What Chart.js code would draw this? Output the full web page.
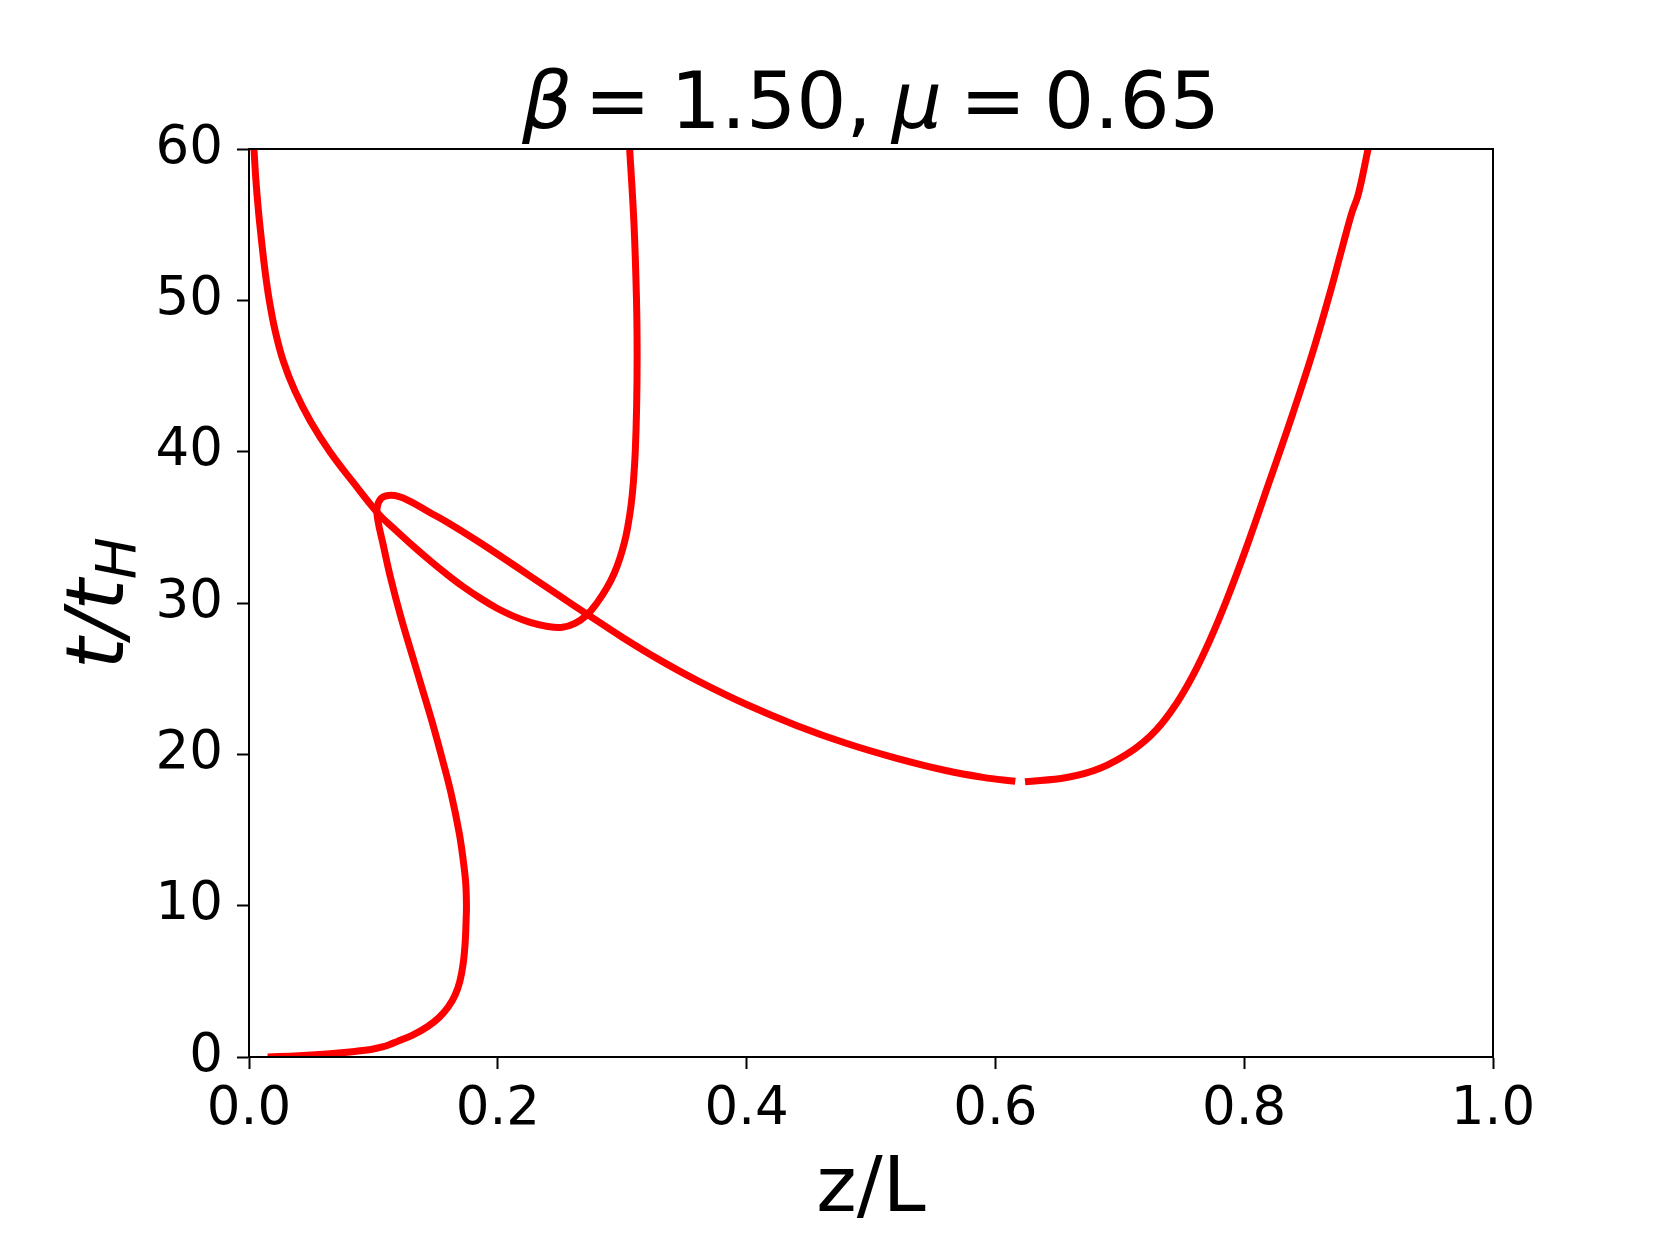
<!DOCTYPE html>
<html>
<head>
<meta charset="utf-8">
<script src="https://cdn.jsdelivr.net/npm/chart.js@4.4.1/dist/chart.umd.min.js"></script>
<style>
  html, body { margin: 0; padding: 0; background: #fff; }
  canvas { display: block; }
</style>
</head>
<body>
<canvas id="chart" width="1660" height="1245"></canvas>
<script>
// left U-shaped branch (z/L, t/tH)
const branchA_z = [0.004, 0.0055, 0.0075, 0.0100, 0.0128, 0.0163, 0.0210, 0.0275, 0.0370, 0.0495, 0.0650, 0.0835, 0.104, 0.118, 0.132, 0.146, 0.159, 0.172, 0.186, 0.199, 0.212, 0.226, 0.240, 0.252, 0.262, 0.2715, 0.2797, 0.2877, 0.2938, 0.2983, 0.3018, 0.3044, 0.3072, 0.309, 0.3105, 0.3116, 0.312, 0.3115, 0.3095, 0.306];
const branchA_t = [60, 58, 56, 54, 52, 50, 48, 46, 44, 42, 40, 38, 35.9, 34.81, 33.76, 32.77, 31.9, 31.09, 30.31, 29.67, 29.15, 28.72, 28.45, 28.4, 28.65, 29.2, 30, 31, 32, 33, 34, 35, 36.5, 38, 40, 43, 46.5, 50, 55, 60];

// branch from the origin, through the small loop, down to the minimum
const branchB_z = [0.015, 0.04, 0.065, 0.085, 0.098, 0.108, 0.1131, 0.1185, 0.1315, 0.1434, 0.1527, 0.1601, 0.1657, 0.1695, 0.1722, 0.1738, 0.1745, 0.1748, 0.1742, 0.1722, 0.169, 0.1625, 0.155, 0.147, 0.139, 0.131, 0.122, 0.114, 0.108, 0.1035, 0.103, 0.106, 0.112, 0.12, 0.13, 0.145, 0.16, 0.183, 0.205, 0.226, 0.25, 0.272, 0.30, 0.33, 0.36, 0.40, 0.44, 0.48, 0.52, 0.56, 0.59, 0.616];
const branchB_t = [0, 0.09, 0.22, 0.37, 0.5, 0.68, 0.82, 1.0, 1.45, 2.0, 2.6, 3.3, 4.1, 5.0, 6.2, 7.6, 9.0, 10, 11.5, 13, 14.8, 17.4, 19.8, 22.2, 24.4, 26.6, 29.1, 31.6, 33.8, 35.5, 36.3, 36.9, 37.1, 37.05, 36.7, 36.0, 35.3, 34.13, 32.94, 31.78, 30.45, 29.25, 27.74, 26.24, 24.89, 23.29, 21.91, 20.73, 19.75, 18.93, 18.48, 18.22];

// right rising branch
const branchC_z = [0.6238, 0.6573, 0.6841, 0.7109, 0.7297, 0.7457, 0.7591, 0.7725, 0.7859, 0.802, 0.8207, 0.839, 0.855, 0.869, 0.8795, 0.8866, 0.8917, 0.8996];
const branchC_t = [18.19, 18.47, 19.08, 20.3, 21.65, 23.38, 25.26, 27.56, 30.2, 33.72, 38.13, 42.5, 46.55, 50.5, 53.7, 55.8, 57.0, 60];

const xTicks = [0, 0.2, 0.4, 0.6, 0.8, 1.0];
const yTicks = [0, 10, 20, 30, 40, 50, 60];

const FONT = '"DejaVu Sans", sans-serif';

function toPoints(zs, ts) {
  return zs.map((z, i) => ({ x: z, y: ts[i] }));
}

function curve(zs, ts) {
  return {
    data: toPoints(zs, ts),
    showLine: true,
    borderColor: "#ff0000",
    backgroundColor: "#ff0000",
    borderWidth: 7,
    pointRadius: 0,
    tension: 0.4,
  };
}

// draw text pieces one after another, each with its font and a gap after it
function drawRuns(ctx, runs, cx, baseY) {
  let total = 0;
  runs.forEach((r, i) => {
    ctx.font = r.font;
    r.w = ctx.measureText(r.text).width;
    total += r.w + (i < runs.length - 1 ? (r.gap || 0) : 0);
  });
  let x = cx - total / 2;
  ctx.textAlign = "left";
  ctx.textBaseline = "alphabetic";
  runs.forEach((r) => {
    ctx.font = r.font;
    ctx.fillText(r.text, x, baseY + (r.dy || 0));
    x += r.w + (r.gap || 0);
  });
}

const decorations = {
  id: "decorations",
  afterDraw(chart) {
    const { ctx, chartArea: a } = chart;
    const cx = (a.left + a.right) / 2;
    const cy = (a.top + a.bottom) / 2;
    ctx.save();
    ctx.strokeStyle = "#000";
    ctx.lineWidth = 2;
    ctx.strokeRect(a.left, a.top, a.right - a.left, a.bottom - a.top);

    ctx.fillStyle = "#000";
    drawRuns(ctx, [
      { text: "\u03b2", font: "italic 79px " + FONT, gap: 12 },
      { text: "=", font: "79px " + FONT, gap: 20 },
      { text: "1.50,", font: "79px " + FONT, gap: 20 },
      { text: "\u03bc", font: "italic 79px " + FONT, gap: 18 },
      { text: "=", font: "79px " + FONT, gap: 18 },
      { text: "0.65", font: "79px " + FONT },
    ], cx, 128);

    drawRuns(ctx, [{ text: "z/L", font: "77px " + FONT }], cx, 1211);

    ctx.translate(123, cy);
    ctx.rotate(-Math.PI / 2);
    drawRuns(ctx, [
      { text: "t/t", font: "italic 80px " + FONT },
      { text: "H", font: "italic 56px " + FONT, dy: 12 },
    ], 0, 0);
    ctx.restore();
  },
};

const ctx = document.getElementById("chart").getContext("2d");
new Chart(ctx, {
  type: "scatter",
  data: {
    datasets: [
      curve(branchA_z, branchA_t),
      curve(branchB_z, branchB_t),
      curve(branchC_z, branchC_t),
    ],
  },
  options: {
    responsive: false,
    animation: false,
    layout: { padding: { left: 0, right: 167, top: 149, bottom: 0 } },
    plugins: {
      legend: { display: false },
      tooltip: { enabled: false },
    },
    scales: {
      x: {
        type: "linear",
        min: 0,
        max: 1,
        afterBuildTicks: (scale) => {
          scale.ticks = xTicks.map((v) => ({ value: v }));
        },
        afterFit: (scale) => {
          scale.height = 188;
        },
        ticks: {
          color: "#000",
          font: { family: FONT, size: 53 },
          padding: 9,
          maxRotation: 0,
          callback: (v) => Number(v).toFixed(1),
        },
        grid: {
          drawOnChartArea: false,
          drawTicks: true,
          tickLength: 12,
          tickWidth: 2,
          tickColor: "#000",
        },
        border: { display: true, color: "#000", width: 2 },
      },
      y: {
        type: "linear",
        min: 0,
        max: 60,
        afterBuildTicks: (scale) => {
          scale.ticks = yTicks.map((v) => ({ value: v }));
        },
        afterFit: (scale) => {
          scale.width = 249;
        },
        ticks: {
          color: "#000",
          font: { family: FONT, size: 53 },
          padding: 14,
          callback: (v) => String(v),
        },
        grid: {
          drawOnChartArea: false,
          drawTicks: true,
          tickLength: 12,
          tickWidth: 2,
          tickColor: "#000",
        },
        border: { display: true, color: "#000", width: 2 },
      },
    },
  },
  plugins: [decorations],
});
</script>
</body>
</html>
